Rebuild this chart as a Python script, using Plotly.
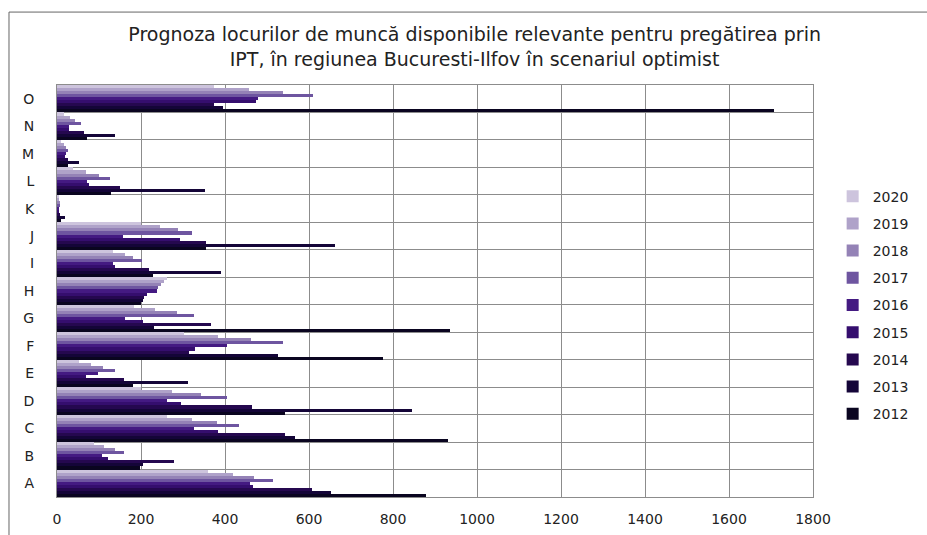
import plotly.graph_objects as go

# categories (A..O) and one list of values per year
categories = ["A", "B", "C", "D", "E", "F", "G", "H", "I", "J", "K", "L", "M", "N", "O"]
years = ["2012", "2013", "2014", "2015", "2016", "2017", "2018", "2019", "2020"]

v2012 = [879, 197, 930, 543, 180, 777, 935, 200, 229, 355, 10, 128, 27, 72, 1708]
v2013 = [652, 205, 567, 845, 311, 526, 232, 204, 390, 663, 20, 353, 52, 139, 395]
v2014 = [606, 278, 543, 465, 160, 315, 366, 208, 219, 354, 8, 151, 27, 64, 374]
v2015 = [467, 122, 384, 295, 68, 328, 204, 215, 138, 293, 5, 75, 20, 28, 474]
v2016 = [460, 106, 327, 263, 98, 405, 163, 238, 134, 158, 5, 72, 22, 28, 478]
v2017 = [515, 159, 433, 404, 137, 537, 326, 240, 203, 322, 8, 127, 27, 56, 610]
v2018 = [470, 138, 380, 344, 110, 462, 285, 247, 182, 287, 6, 100, 22, 44, 538]
v2019 = [420, 113, 321, 273, 80, 383, 234, 255, 162, 245, 5, 68, 17, 32, 457]
v2020 = [360, 89, 261, 200, 52, 302, 183, 262, 134, 200, 3, 38, 10, 16, 374]

series = [v2012, v2013, v2014, v2015, v2016, v2017, v2018, v2019, v2020]

colors = ["#0a0520", "#140538", "#25084f", "#350e6e", "#441a82",
          "#6e55a0", "#9482b6", "#afa2c9", "#cdc4dd"]

x_ticks = [0, 200, 400, 600, 800, 1000, 1200, 1400, 1600, 1800]

FONT = "DejaVu Sans"

fig = go.Figure()
for i, (year, vals, col) in enumerate(zip(years, series, colors)):
    fig.add_trace(go.Bar(
        y=categories, x=vals, name=year, orientation="h",
        marker={"color": col, "line": {"width": 0}},
        legendgroup=year,
        legendrank=100 - i,  # newest year on top of the legend
    ))

fig.update_layout(
    width=927, height=535,
    paper_bgcolor="white", plot_bgcolor="white",
    font={"family": FONT, "color": "#222222", "size": 14},
    barmode="group", bargap=0.0, bargroupgap=0.0,
    margin={"l": 57, "r": 114, "t": 85, "b": 38},
    title={
        "text": "Prognoza locurilor de muncă disponibile relevante pentru pregătirea prin<br>"
                "IPT, în regiunea Bucuresti-Ilfov în scenariul optimist",
        "x": 0.512, "xanchor": "center", "y": 0.923, "yanchor": "top",
        "font": {"size": 19, "color": "#222222", "family": FONT},
    },
    xaxis={
        "range": [0, 1800], "tickvals": x_ticks, "ticks": "",
        "showgrid": True, "gridcolor": "#8c8c8c", "gridwidth": 1,
        "showline": True, "linecolor": "#8c8c8c", "mirror": True,
        "zeroline": False, "tickfont": {"size": 14},
        "ticklabelstandoff": 9, "automargin": False,
    },
    yaxis={
        "type": "category", "tickson": "boundaries", "ticks": "",
        "showgrid": True, "gridcolor": "#8c8c8c", "gridwidth": 1,
        "showline": True, "linecolor": "#8c8c8c", "mirror": True,
        "tickfont": {"size": 14}, "ticklabelstandoff": 19,
        "automargin": False,
    },
    legend={
        "traceorder": "grouped", "tracegroupgap": 6,
        "x": 1.026, "xanchor": "left", "y": 0.768, "yanchor": "top",
        "font": {"size": 14}, "itemwidth": 30,
    },
    shapes=[{
        "type": "rect", "xref": "paper", "yref": "paper",
        "x0": -0.0635, "x1": 1.17, "y0": -0.2, "y1": 1.177,
        "line": {"color": "#666666", "width": 1},
    }],
)

fix_page = (
    "document.body.style.margin='0';"
    "document.body.style.overflow='hidden';"
    "var gd=document.getElementById('{plot_id}');"
    "Plotly.relayout(gd,{width:927,height:535});"
)

fig.write_html("out.html", post_script=fix_page,
               config={"displayModeBar": False})
